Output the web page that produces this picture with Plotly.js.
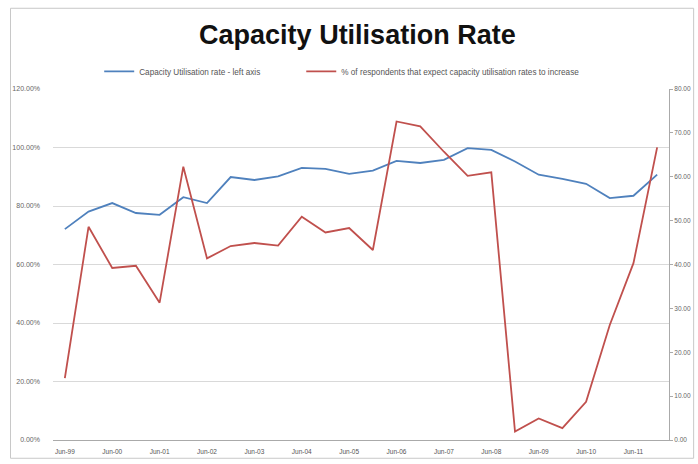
<!DOCTYPE html>
<html><head><meta charset="utf-8">
<script src="https://cdn.plot.ly/plotly-3.0.1.min.js"></script>
<style>html,body{margin:0;padding:0;background:#fff}#c{width:698px;height:464px}</style>
</head><body><div id="c"></div>
<script>
const categories = ["Jun-99","Dec-99","Jun-00","Dec-00","Jun-01","Dec-01","Jun-02","Dec-02","Jun-03","Dec-03","Jun-04","Dec-04","Jun-05","Dec-05","Jun-06","Dec-06","Jun-07","Dec-07","Jun-08","Dec-08","Jun-09","Dec-09","Jun-10","Dec-10","Jun-11","Dec-11"];
const tickLabels = ["Jun-99","Jun-00","Jun-01","Jun-02","Jun-03","Jun-04","Jun-05","Jun-06","Jun-07","Jun-08","Jun-09","Jun-10","Jun-11"];
const capacityUtil = [72.1,78.1,81.0,77.6,77.0,83.0,81.0,89.9,88.9,90.1,93.0,92.7,91.0,92.1,95.4,94.7,95.8,99.8,99.2,95.2,90.7,89.3,87.6,82.7,83.5,90.7];
const expectIncrease = [14.1,48.6,39.2,39.7,31.3,62.3,41.4,44.2,44.9,44.3,50.9,47.3,48.3,43.3,72.6,71.5,65.7,60.2,61.0,1.9,4.9,2.7,8.7,26.2,40.3,66.7];
const leftTicks = [0,20,40,60,80,100,120];
const rightTicks = [0,10,20,30,40,50,60,70,80];

const fnt = "Liberation Sans, Arial, sans-serif";
const traces = [
  {x: categories, y: capacityUtil.map(v=>v/100), type:'scatter', mode:'lines', name:'Capacity Utilisation rate - left axis', line:{color:'#4F81BD', width:1.8}, yaxis:'y', legend:'legend'},
  {x: categories, y: expectIncrease, type:'scatter', mode:'lines', name:'% of respondents that expect capacity utilisation rates to increase', line:{color:'#C0504D', width:1.8}, yaxis:'y2', legend:'legend2'}
];
const legFont = {family:fnt, size:8.2, color:'#555'};
const layout = {
  width:698, height:464,
  margin:{l:53, r:29, t:89, b:24},
  paper_bgcolor:'#fff', plot_bgcolor:'#fff',
  title:{text:'<b>Capacity Utilisation Rate</b>', x:0.512, xanchor:'center', y:0.925, yanchor:'middle', font:{family:"Liberation Sans Narrow, Arial Narrow, sans-serif", size:27, color:'#111'}},
  showlegend:true,
  legend:{orientation:'h', x:0.075, xanchor:'left', y:1.05, yanchor:'middle', font:legFont, itemwidth:30},
  legend2:{orientation:'h', x:0.403, xanchor:'left', y:1.05, yanchor:'middle', font:legFont, itemwidth:30},
  xaxis:{type:'category', range:[-0.5,25.5], tickmode:'array', tickvals:tickLabels, ticktext:tickLabels, tickangle:0, tickfont:{family:fnt,size:6.5,color:'#555'}, showgrid:false, showline:true, linecolor:'#aaa', linewidth:1, ticks:'', ticklabelstandoff:5, zeroline:false, fixedrange:true},
  yaxis:{range:[0,1.2], tickmode:'array', tickvals:leftTicks.map(v=>v/100), tickformat:'.2%', tickfont:{family:fnt,size:7,color:'#666'}, showgrid:true, gridcolor:'#d9d9d9', gridwidth:1, showline:false, zeroline:false, ticks:'', ticklabelstandoff:12},
  yaxis2:{range:[0,80], overlaying:'y', side:'right', tickmode:'array', tickvals:rightTicks, tickformat:'.2f', tickfont:{family:fnt,size:6.5,color:'#666'}, showgrid:false, showline:true, linecolor:'#aaa', linewidth:1, zeroline:false, ticks:'outside', ticklen:3, tickcolor:'#aaa'},
  shapes:[{type:'rect', xref:'paper', yref:'paper', x0:-0.069, x1:1.04, y0:-0.052, y1:1.23, line:{color:'#c8c8c8', width:1}}]
};
Plotly.newPlot('c', traces, layout, {displayModeBar:false, staticPlot:true});
</script></body></html>
